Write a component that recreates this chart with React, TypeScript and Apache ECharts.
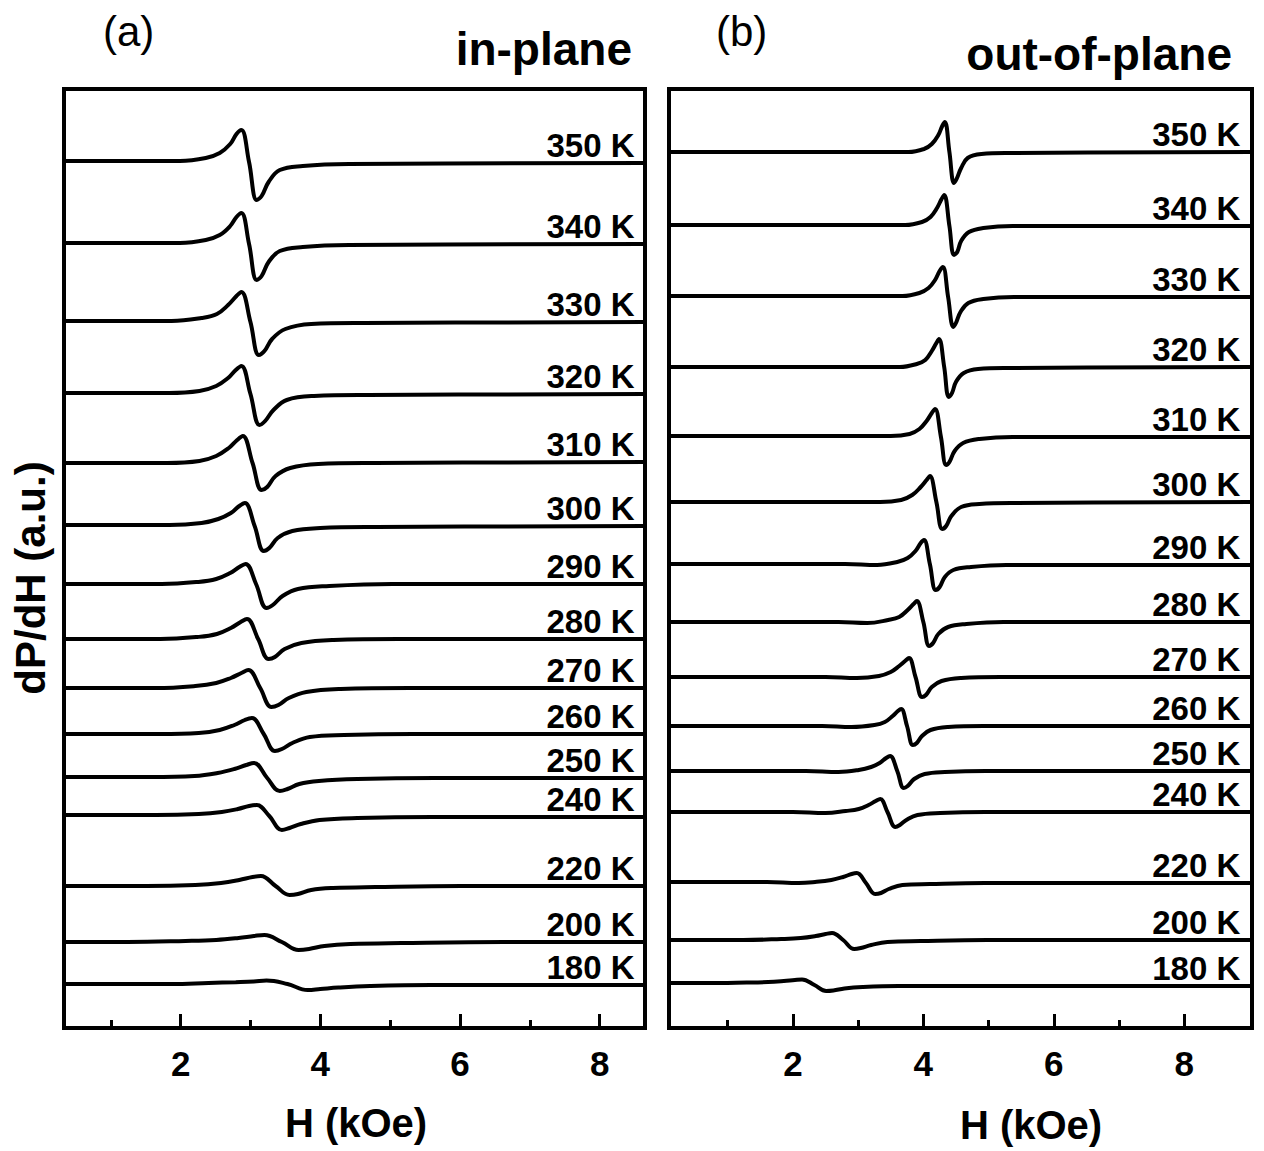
import React, { useEffect, useRef } from "react";
import * as echarts from "echarts";

// ---------------- data (H in kOe, dP/dH in arbitrary units) ----------------
const TEMPS = ["350 K", "340 K", "330 K", "320 K", "310 K", "300 K", "290 K", "280 K", "270 K", "260 K", "250 K", "240 K", "220 K", "200 K", "180 K"];

const H_MAJOR_TICKS = [2, 4, 6, 8];
const H_MINOR_TICKS_A = [1, 3, 5, 7];
const H_MINOR_TICKS_B = [1, 3, 5, 7];
const H_RANGE_A = [0.33, 8.65];
const H_RANGE_B = [0.1, 9.04];
const Y_RANGE = [0, 939];

// (a) in-plane
const IP_350 = [[0.33,867],[1.99,867],[2.36,870],[2.56,875],[2.71,884],[2.80,894],[2.87,898],[2.98,866],[3.09,828],[3.16,832],[3.26,846],[3.42,858],[3.75,862],[4.41,864],[8.65,865]];
const IP_340 = [[0.33,785],[1.99,785],[2.36,788],[2.56,793],[2.71,802],[2.80,811],[2.87,815],[2.98,784],[3.09,748],[3.16,752],[3.26,766],[3.42,777],[3.75,781],[4.41,783],[8.65,784]];
const IP_330 = [[0.33,707],[1.87,707],[2.30,710],[2.52,714],[2.68,723],[2.80,732],[2.87,736],[3.00,706],[3.12,673],[3.20,677],[3.31,689],[3.50,699],[3.87,704],[4.62,705],[8.65,706]];
const IP_320 = [[0.33,635],[1.83,635],[2.27,637],[2.51,642],[2.68,650],[2.79,658],[2.87,662],[3.00,634],[3.13,603],[3.21,607],[3.33,618],[3.52,628],[3.91,632],[4.69,633],[8.65,634]];
const IP_310 = [[0.33,565],[1.81,565],[2.27,567],[2.51,572],[2.69,580],[2.81,588],[2.89,592],[3.03,565],[3.16,538],[3.24,541],[3.36,552],[3.57,560],[3.97,564],[4.78,565],[8.65,566]];
const IP_300 = [[0.33,503],[1.84,503],[2.30,505],[2.54,509],[2.72,515],[2.84,522],[2.92,525],[3.06,502],[3.19,477],[3.27,480],[3.39,490],[3.60,497],[4.00,500],[4.81,501],[8.65,502]];
const IP_290 = [[0.33,444],[1.73,444],[2.24,446],[2.51,449],[2.71,455],[2.84,461],[2.93,464],[3.08,444],[3.23,420],[3.32,423],[3.46,432],[3.68,439],[4.13,442],[5.03,444],[8.65,444]];
const IP_280 = [[0.33,389],[1.71,389],[2.24,391],[2.52,394],[2.72,400],[2.86,406],[2.95,409],[3.11,389],[3.26,369],[3.35,371],[3.49,379],[3.73,385],[4.19,388],[5.12,389],[8.65,389]];
const IP_270 = [[0.33,340],[1.65,340],[2.21,342],[2.51,345],[2.72,350],[2.87,355],[2.97,358],[3.14,340],[3.30,321],[3.40,323],[3.55,330],[3.80,336],[4.29,339],[5.28,340],[8.65,340]];
const IP_260 = [[0.33,294],[1.70,294],[2.26,295],[2.56,298],[2.77,303],[2.92,308],[3.02,310],[3.19,294],[3.35,277],[3.45,279],[3.60,285],[3.85,291],[4.34,293],[5.33,294],[8.65,294]];
const IP_250 = [[0.33,251],[1.57,251],[2.20,252],[2.53,255],[2.77,259],[2.94,263],[3.05,265],[3.24,250],[3.42,237],[3.53,239],[3.70,244],[3.98,247],[4.53,249],[5.64,250],[8.65,250]];
const IP_240 = [[0.33,213],[1.65,213],[2.26,214],[2.59,216],[2.82,219],[2.98,222],[3.09,223],[3.27,212],[3.45,198],[3.56,200],[3.72,204],[3.99,208],[4.53,210],[5.61,211],[8.65,211]];
const IP_220 = [[0.33,142],[1.51,142],[2.21,143],[2.58,145],[2.84,148],[3.03,151],[3.15,152],[3.36,142],[3.56,133],[3.68,134],[3.87,138],[4.18,140],[4.79,141],[6.02,142],[8.65,142]];
const IP_200 = [[0.33,86],[1.24,86],[2.07,87],[2.51,88],[2.83,90],[3.05,92],[3.20,93],[3.45,86],[3.69,78],[3.84,79],[4.06,82],[4.43,84],[5.16,85],[6.63,86],[8.65,86]];
const IP_180 = [[0.33,44],[0.87,44],[1.87,44],[2.40,45],[2.79,45.8],[3.05,46.5],[3.23,47.5],[3.53,44],[3.82,38],[4.00,39],[4.26,40.5],[4.71,42],[5.59,43],[7.36,43],[8.65,43]];

// (b) out-of-plane
const OP_350 = [[0.10,876],[3.77,876],[4.01,879],[4.13,884],[4.23,893],[4.29,902],[4.33,906],[4.40,876],[4.47,845],[4.51,849],[4.58,860],[4.68,870],[4.89,874],[5.31,875],[9.04,876]];
const OP_340 = [[0.10,803],[3.72,803],[3.98,806],[4.11,811],[4.21,820],[4.28,829],[4.32,833],[4.40,802],[4.47,773],[4.52,776],[4.58,787],[4.70,796],[4.92,800],[5.37,802],[9.04,802]];
const OP_330 = [[0.10,732],[3.68,732],[3.94,735],[4.08,740],[4.18,748],[4.25,757],[4.30,761],[4.38,731],[4.46,701],[4.50,705],[4.57,716],[4.69,725],[4.92,729],[5.39,731],[9.04,731]];
const OP_320 = [[0.10,661],[3.64,661],[3.90,664],[4.03,668],[4.13,677],[4.20,685],[4.24,689],[4.32,661],[4.39,631],[4.44,635],[4.50,646],[4.62,655],[4.84,659],[5.29,660],[9.04,661]];
const OP_310 = [[0.10,592],[3.50,592],[3.79,594],[3.94,599],[4.05,607],[4.13,615],[4.18,619],[4.27,591],[4.35,563],[4.40,566],[4.48,577],[4.61,585],[4.86,589],[5.37,591],[9.04,591]];
const OP_300 = [[0.10,526],[3.34,526],[3.66,528],[3.83,533],[3.96,541],[4.05,548],[4.10,552],[4.20,526],[4.29,499],[4.35,502],[4.43,512],[4.58,521],[4.86,524],[5.43,525],[9.04,526]];
const OP_290 = [[0.10,464],[2.80,464],[3.29,463],[3.60,466],[3.76,470],[3.88,477],[3.96,485],[4.01,488],[4.10,464],[4.19,438],[4.25,441],[4.33,451],[4.46,458],[4.73,461],[5.27,463],[9.04,463]];
const OP_280 = [[0.10,406],[2.70,406],[3.14,405],[3.46,408],[3.63,411],[3.76,418],[3.85,424],[3.90,427],[4.00,406],[4.09,382],[4.15,385],[4.23,394],[4.38,401],[4.66,404],[5.23,406],[9.04,406]];
const OP_270 = [[0.10,351],[2.50,351],[2.98,350],[3.32,352],[3.50,356],[3.63,362],[3.72,367],[3.78,370],[3.88,351],[3.98,331],[4.04,333],[4.13,341],[4.28,347],[4.58,350],[5.18,351],[9.04,351]];
const OP_260 = [[0.10,302],[2.45,302],[2.90,301],[3.25,303],[3.41,306],[3.53,312],[3.61,317],[3.66,319],[3.75,302],[3.84,283],[3.90,285],[3.98,292],[4.11,298],[4.38,301],[4.92,302],[9.04,302]];
const OP_250 = [[0.10,257],[2.20,257],[2.70,256],[3.01,258],[3.20,261],[3.33,265],[3.43,270],[3.49,272],[3.60,257],[3.70,240],[3.76,242],[3.86,249],[4.02,254],[4.33,256],[4.96,257],[9.04,257]];
const OP_240 = [[0.10,216],[2.00,216],[2.50,215],[2.81,217],[3.01,219],[3.16,223],[3.27,227],[3.34,229],[3.45,216],[3.57,201],[3.64,203],[3.74,208],[3.91,213],[4.26,215],[4.95,216],[9.04,216]];
const OP_220 = [[0.10,146],[1.60,146],[2.09,145],[2.34,146],[2.59,148],[2.77,151],[2.90,154],[2.98,155],[3.12,145],[3.26,134],[3.35,135],[3.47,139],[3.68,143],[4.10,144],[4.94,145],[9.04,145]];
const OP_200 = [[0.10,88],[1.24,88],[1.82,89],[2.12,90],[2.35,92],[2.50,94],[2.60,95],[2.77,88],[2.94,79],[3.04,80],[3.20,83],[3.45,86],[3.96,87],[4.98,88],[9.04,88]];
const OP_180 = [[0.10,45],[0.66,45],[1.29,45.5],[1.62,46],[1.86,47],[2.03,48],[2.14,48.5],[2.33,43],[2.51,37],[2.62,37.5],[2.79,39.5],[3.07,41],[3.62,42],[4.73,42],[9.04,42]];

const IN_PLANE = [IP_350, IP_340, IP_330, IP_320, IP_310, IP_300, IP_290, IP_280, IP_270, IP_260, IP_250, IP_240, IP_220, IP_200, IP_180];
const OUT_OF_PLANE = [OP_350, OP_340, OP_330, OP_320, OP_310, OP_300, OP_290, OP_280, OP_270, OP_260, OP_250, OP_240, OP_220, OP_200, OP_180];

// ---------------- styling ----------------
const FONT = '"Liberation Sans", Arial, Helvetica, sans-serif';
const BLACK = "#000";
const LABEL_LIFT = 18;

function curveSeries(curves: number[][][], axisIdx: number, yIdx: number) {
  return curves.map((pts, i) => ({
    type: "line",
    name: TEMPS[i],
    xAxisIndex: axisIdx,
    yAxisIndex: yIdx,
    data: pts,
    smooth: 0.4,
    showSymbol: false,
    symbol: "none",
    silent: true,
    clip: true,
    lineStyle: { color: BLACK, width: 4 },
  }));
}

function labelSeries(curves: number[][][], axisIdx: number, yIdx: number, xPos: number) {
  return {
    type: "scatter",
    xAxisIndex: axisIdx,
    yAxisIndex: yIdx,
    symbolSize: 0,
    silent: true,
    itemStyle: { color: BLACK, opacity: 1 },
    data: curves.map((pts, i) => ({
      name: TEMPS[i],
      value: [xPos, pts[pts.length - 1][1] + LABEL_LIFT],
    })),
    label: {
      show: true,
      position: "left",
      distance: 0,
      formatter: (p: any) => p.name,
      fontFamily: FONT,
      fontWeight: "bold",
      fontSize: 33,
      color: BLACK,
      opacity: 1,
    },
  };
}

function majorAxis(gridIndex: number, range: number[]) {
  return {
    gridIndex,
    type: "value",
    position: "bottom",
    min: range[0],
    max: range[1],
    axisLine: { show: false },
    splitLine: { show: false },
    axisTick: {
      show: true,
      inside: true,
      length: 14,
      customValues: H_MAJOR_TICKS,
      lineStyle: { color: BLACK, width: 3 },
    },
    axisLabel: {
      show: true,
      customValues: H_MAJOR_TICKS,
      margin: 18,
      color: BLACK,
      fontFamily: FONT,
      fontWeight: "bold",
      fontSize: 35,
    },
  };
}

function minorAxis(gridIndex: number, range: number[], ticks: number[], height: number) {
  return {
    gridIndex,
    type: "value",
    position: "top",
    offset: -height,
    min: range[0],
    max: range[1],
    axisLine: { show: false },
    splitLine: { show: false },
    axisTick: {
      show: true,
      inside: false,
      length: 8,
      customValues: ticks,
      lineStyle: { color: BLACK, width: 3 },
    },
    axisLabel: { show: false },
  };
}

export default function App() {
  const ref = useRef<HTMLDivElement>(null);

  useEffect(() => {
    if (!ref.current) return;
    const chart = echarts.init(ref.current, undefined, { renderer: "svg" });
    const gridH = 939;
    const option: any = {
      animation: false,
      backgroundColor: "#fff",
      grid: [
        { left: 64, top: 89, width: 581, height: gridH, show: true, borderColor: BLACK, borderWidth: 4, backgroundColor: "transparent" },
        { left: 669, top: 89, width: 583, height: gridH, show: true, borderColor: BLACK, borderWidth: 4, backgroundColor: "transparent" },
      ],
      xAxis: [
        majorAxis(0, H_RANGE_A),
        minorAxis(0, H_RANGE_A, H_MINOR_TICKS_A, gridH),
        majorAxis(1, H_RANGE_B),
        minorAxis(1, H_RANGE_B, H_MINOR_TICKS_B, gridH),
      ],
      yAxis: [
        { gridIndex: 0, type: "value", min: Y_RANGE[0], max: Y_RANGE[1], show: false },
        { gridIndex: 1, type: "value", min: Y_RANGE[0], max: Y_RANGE[1], show: false },
      ],
      series: [
        ...curveSeries(IN_PLANE, 0, 0),
        ...curveSeries(OUT_OF_PLANE, 2, 1),
        labelSeries(IN_PLANE, 0, 0, 8.5),
        labelSeries(OUT_OF_PLANE, 2, 1, 8.86),
      ],
      graphic: [
        { type: "text", x: 103, y: 31, style: { text: "(a)", font: `42px ${FONT}`, fill: BLACK, align: "left", verticalAlign: "middle" } },
        { type: "text", x: 632, y: 49, style: { text: "in-plane", font: `bold 46px ${FONT}`, fill: BLACK, align: "right", verticalAlign: "middle" } },
        { type: "text", x: 716, y: 31, style: { text: "(b)", font: `42px ${FONT}`, fill: BLACK, align: "left", verticalAlign: "middle" } },
        { type: "text", x: 1232, y: 54, style: { text: "out-of-plane", font: `bold 46px ${FONT}`, fill: BLACK, align: "right", verticalAlign: "middle" } },
        { type: "text", x: 356, y: 1123, style: { text: "H (kOe)", font: `bold 40px ${FONT}`, fill: BLACK, align: "center", verticalAlign: "middle" } },
        { type: "text", x: 1031, y: 1125, style: { text: "H (kOe)", font: `bold 40px ${FONT}`, fill: BLACK, align: "center", verticalAlign: "middle" } },
        { type: "text", x: 30, y: 578, rotation: Math.PI / 2, style: { text: "dP/dH (a.u.)", font: `bold 42px ${FONT}`, fill: BLACK, align: "center", verticalAlign: "middle" } },
      ],
    };
    chart.setOption(option);
    return () => chart.dispose();
  }, []);

  return <div ref={ref} style={{ position: "absolute", left: 0, top: 0, width: 1264, height: 1151, background: "#fff" }} />;
}
